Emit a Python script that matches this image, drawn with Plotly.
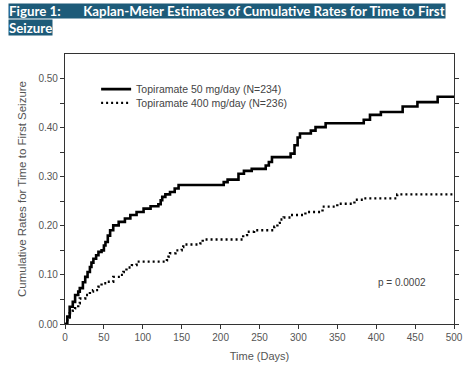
import plotly.graph_objects as go

# ---- data ----
t_50 = [0, 3, 6, 10, 13, 17, 19, 23, 26, 29, 32, 34, 36.5, 40, 43, 47, 50, 52, 55, 58,
        62, 69, 77, 84, 92, 101, 110, 120, 123, 125, 129, 135, 141, 146, 204, 209, 223,
        230, 240, 258, 262, 266, 290, 295, 299, 302, 316, 322, 335, 384, 392, 406, 434,
        453, 479, 500]
v_50 = [0, 0.015, 0.035, 0.045, 0.059, 0.066, 0.073, 0.085, 0.096, 0.106, 0.116, 0.125,
        0.133, 0.140, 0.147, 0.150, 0.160, 0.167, 0.180, 0.191, 0.201, 0.208, 0.215,
        0.222, 0.228, 0.235, 0.240, 0.244, 0.252, 0.259, 0.264, 0.269, 0.276, 0.283,
        0.289, 0.294, 0.306, 0.312, 0.316, 0.323, 0.330, 0.340, 0.347, 0.364, 0.380,
        0.388, 0.394, 0.401, 0.409, 0.416, 0.426, 0.432, 0.443, 0.452, 0.463, 0.463]

t_400 = [0, 3, 6, 10, 13, 17, 19, 26, 32, 36, 43, 47, 54, 62, 71, 75, 79, 86, 92, 131,
         133, 135, 142, 150, 152, 174, 177, 229, 234, 243, 269, 273, 276, 281, 290, 309,
         331, 350, 372, 384, 427, 500]
v_400 = [0, 0.010, 0.022, 0.027, 0.032, 0.042, 0.052, 0.059, 0.066, 0.069, 0.076, 0.083,
         0.086, 0.096, 0.100, 0.106, 0.115, 0.120, 0.127, 0.130, 0.137, 0.144, 0.150,
         0.157, 0.162, 0.164, 0.172, 0.181, 0.188, 0.191, 0.198, 0.206, 0.213, 0.217,
         0.222, 0.228, 0.239, 0.245, 0.253, 0.256, 0.264, 0.264]

name_50 = "Topiramate 50 mg/day (N=234)"
name_400 = "Topiramate 400 mg/day (N=236)"
x_ticks = [0, 50, 100, 150, 200, 250, 300, 350, 400, 450, 500]
y_ticks = [0.0, 0.1, 0.2, 0.3, 0.4, 0.5]
title_line1 = "Figure 1:&nbsp;&nbsp;&nbsp;&nbsp;&nbsp;&nbsp;&nbsp;Kaplan-Meier Estimates of Cumulative Rates for Time to First"
title_line2 = "Seizure"
p_text = "p = 0.0002"

fig = go.Figure()
fig.add_trace(go.Scatter(x=t_50, y=v_50, mode="lines", name=name_50,
                         line=dict(color="black", width=2.6, shape="hv"),
                         legend="legend"))
fig.add_trace(go.Scatter(x=t_400, y=v_400, mode="lines", name=name_400,
                         line=dict(color="black", width=2.4, shape="hv", dash="2px,3px"),
                         legend="legend2"))

axis_common = dict(showline=True, linecolor="#333", linewidth=1.3, ticks="outside",
                   ticklen=4, tickcolor="#333", tickwidth=1, showgrid=False, zeroline=False,
                   automargin=False,
                   tickfont=dict(family="Arial, Liberation Sans", size=10, color="#555"))

fig.update_xaxes(range=[0, 500], tickvals=x_ticks, mirror=True,
                 title=dict(text="Time (Days)", font=dict(family="Arial, Liberation Sans", size=11, color="#555"), standoff=10),
                 minor=dict(ticks="", showgrid=False),
                 **axis_common)
fig.update_yaxes(range=[0, 0.55], tickvals=y_ticks, tickformat=".2f", mirror="ticks",
                 title=dict(text="Cumulative Rates for Time to First Seizure", font=dict(family="Arial, Liberation Sans", size=11.5, color="#555"), standoff=9),
                 minor=dict(tickvals=[0.05, 0.15, 0.25, 0.35, 0.45], ticks="outside", ticklen=4, tickcolor="#333"),
                 **axis_common)

legend_font = dict(family="Arial, Liberation Sans", size=10.5, color="#444")
fig.update_layout(
    width=470, height=376,
    margin=dict(l=65, r=16, t=54, b=52, autoexpand=False),
    paper_bgcolor="white", plot_bgcolor="white",
    showlegend=True,
    legend=dict(x=0.08, y=0.870, xanchor="left", yanchor="middle", font=legend_font,
                bgcolor="rgba(0,0,0,0)", itemwidth=30),
    legend2=dict(x=0.08, y=0.819, xanchor="left", yanchor="middle", font=legend_font,
                 bgcolor="rgba(0,0,0,0)", itemwidth=30),
    annotations=[
        dict(text="<b>" + title_line1 + "</b>", xref="paper", yref="paper", x=-0.1465, y=1.189,
             xanchor="left", yanchor="top", showarrow=False, bgcolor="#1d5b79", borderpad=0,
             height=14, font=dict(family="Lato, Open Sans", size=13.3, color="white")),
        dict(text="<b>" + title_line2 + "</b>", xref="paper", yref="paper", x=-0.1465, y=1.13,
             xanchor="left", yanchor="top", showarrow=False, bgcolor="#1d5b79", borderpad=0,
             height=15, font=dict(family="Lato, Open Sans", size=13.3, color="white")),
        dict(text=p_text, xref="x", yref="y", x=433, y=0.085, showarrow=False,
             font=dict(family="Arial, Liberation Sans", size=10, color="#444")),
    ],
)

fig.write_html("out.html", config={"displayModeBar": False},
               post_script="document.body.style.margin='0px';")
